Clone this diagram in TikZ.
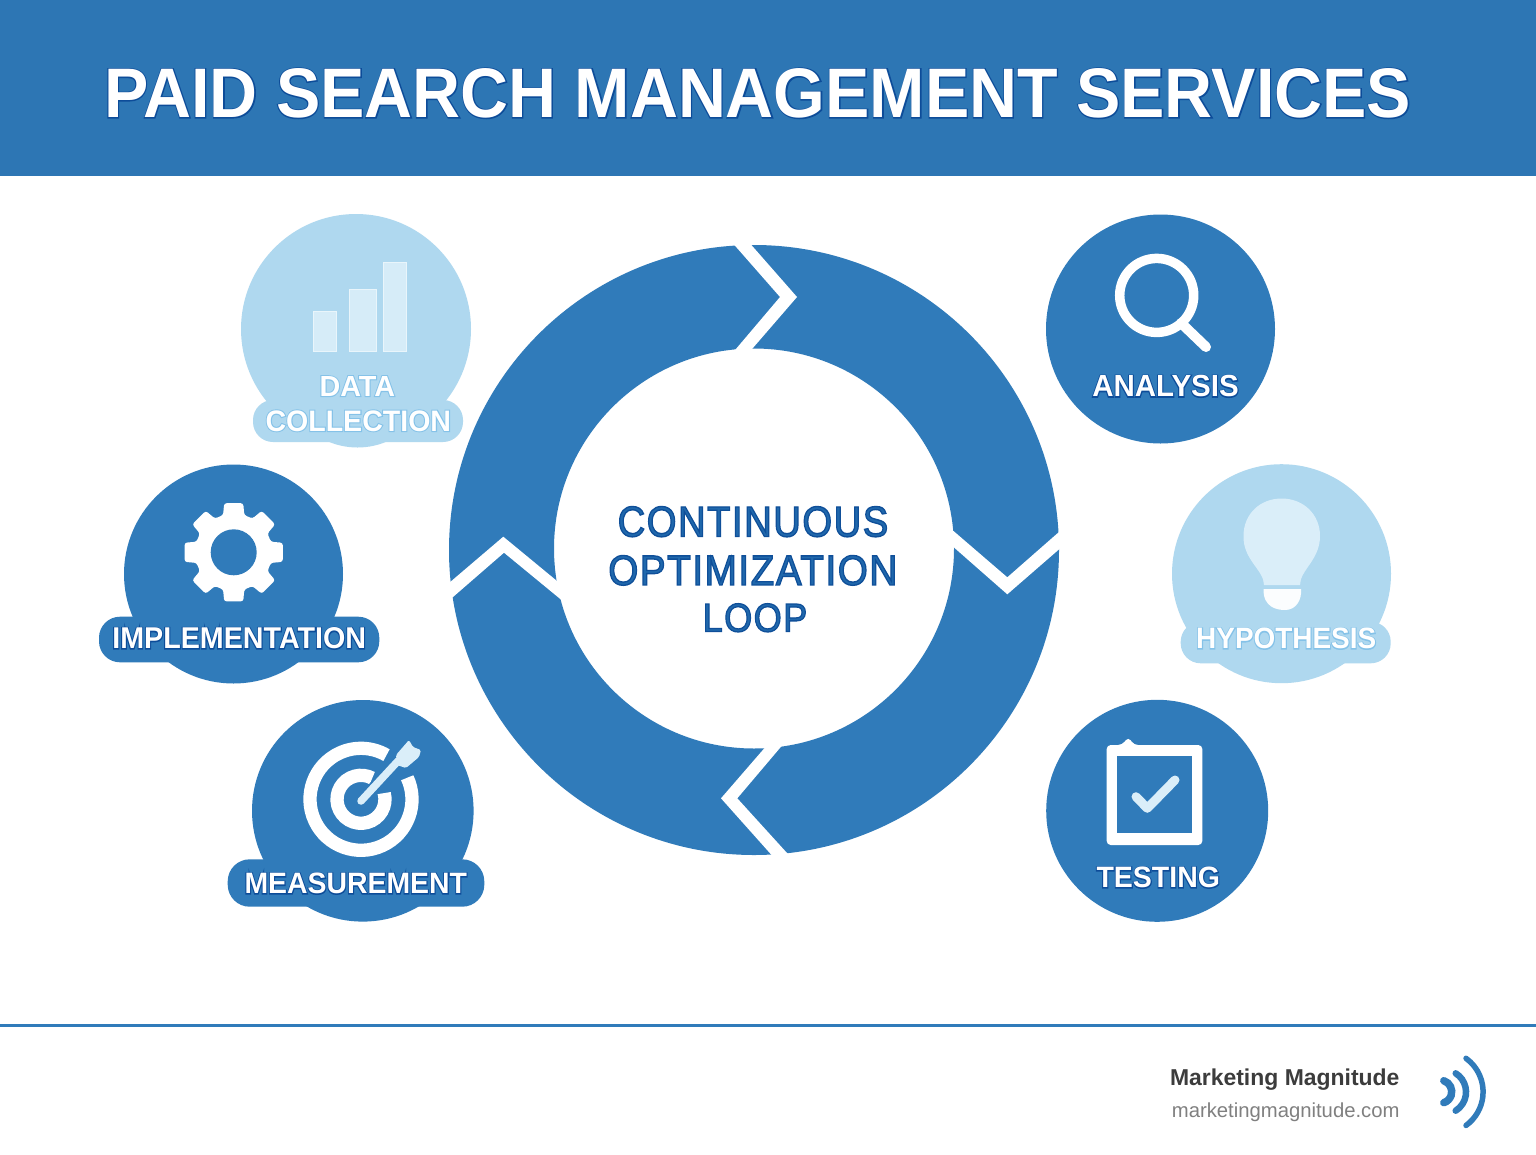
\documentclass[tikz,border=0pt]{standalone}
\usepackage{graphicx}
\usepackage{fontspec}
\setmainfont{Liberation Sans}
\definecolor{hdr}{RGB}{45,118,180}
\definecolor{ringblue}{RGB}{48,123,186}
\definecolor{lightb}{RGB}{175,216,239}
\definecolor{paleb}{RGB}{218,238,249}
\definecolor{barb}{RGB}{214,236,248}
\definecolor{midtext}{RGB}{32,104,172}
\definecolor{foot}{RGB}{60,60,60}
\definecolor{footg}{RGB}{128,128,128}
\makeatletter
\newcommand{\stk}[3]{\pgfsys@invoke{2 Tr #1 w #2 RG}#3\pgfsys@invoke{0 Tr}}
\newcommand{\outl}[3]{\rlap{\pgfsys@invoke{1 Tr #1 w #2 RG}#3\pgfsys@invoke{0 Tr}}#3}
\makeatother
% white text, coloured edge outside the glyphs, fitted to W x H px
\newcommand{\darklab}[3]{\resizebox{#1pt}{#2pt}{\fontsize{29}{34}\bfseries\selectfont\color{white}\outl{2}{0.05 0.30 0.60}{#3}}}
\newcommand{\lightlab}[3]{\resizebox{#1pt}{#2pt}{\fontsize{29}{34}\bfseries\selectfont\color{white}\outl{2}{0.52 0.76 0.91}{#3}}}
\newcommand{\midlab}[3]{\resizebox{#1pt}{#2pt}{\fontsize{38}{46}\addfontfeature{LetterSpace=4}\selectfont\color{midtext}\stk{1.2}{0.06 0.31 0.60}{#3}}}
\tikzset{
  txt/.style={inner sep=0pt,outer sep=0pt},
  badge/.style={fill=ringblue,draw=none},
  lbadge/.style={fill=lightb,draw=none},
  gapw/.style={fill=white,draw=none},
  iconw/.style={draw=white,fill=none},
  iconp/.style={draw=paleb,fill=none,line cap=round,line join=round}
}
\begin{document}
\begin{tikzpicture}[x=1pt,y=-1pt]
\useasboundingbox (0,0) rectangle (1536,1154);
\fill[white] (0,0) rectangle (1536,1154);
% header
\fill[hdr] (0,0) rectangle (1536,176);
\node[txt] (title) at (757.5,93.3) {\resizebox{1307pt}{49pt}{\fontsize{70}{80}\bfseries\selectfont\color{white}\outl{2.2}{0.05 0.30 0.60}{PAID SEARCH MANAGEMENT SERVICES}}};
% ring
\fill[ringblue,even odd rule] (754,550) circle (305) (754,548.5) circle (200);
\fill[gapw] (730,240)--(780,297)--(730,356)--(746,356)--(797,297)--(747,240)--cycle;
\fill[gapw] (945,523.7)--(1007.3,577.3)--(1070,522.3)--(1070,539.8)--(1007.3,594.3)--(945,539.6)--cycle;
\fill[gapw] (773.2,738)--(721,798.3)--(779.6,864)--(797,864)--(737.3,798.3)--(788.4,738)--cycle;
\fill[gapw] (440,590.7)--(503.3,536.7)--(570,591.7)--(570,607)--(504,552.7)--(440,608.3)--cycle;
\node[txt] (c1) at (753,521.7) {\midlab{270.6}{30}{CONTINUOUS}};
\node[txt] (c2) at (752.8,570.4) {\midlab{289}{29.5}{OPTIMIZATION}};
\node[txt] (c3) at (755,617.8) {\midlab{104.6}{28}{LOOP}};
% Data collection
\fill[lbadge] (356,329) circle (115);
\fill[lbadge,rounded corners=20] (253,400) rectangle (463,442);
\fill[lbadge] (325,440) .. controls (345,450) and (370,450) .. (390,440) -- cycle;
\fill[barb,draw=paleb!60!white,line width=.8] (313.3,311) rectangle (336.7,351.7);
\fill[barb,draw=paleb!60!white,line width=.8] (349,289.3) rectangle (376,351.7);
\fill[barb,draw=paleb!60!white,line width=.8] (383.3,262) rectangle (406,351.7);
\node[txt] (dc1) at (357.3,386.2) {\lightlab{75.5}{20}{DATA}};
\node[txt] (dc2) at (358.3,420.8) {\lightlab{185.5}{20.7}{COLLECTION}};
% Analysis
\fill[badge] (1160.5,329) circle (114.5);
\draw[iconw,line width=9.5] (1156.7,295.4) circle (37);
\draw[iconw,line width=10,line cap=round] (1181,323) -- (1206,347);
\node[txt] (an) at (1165.5,386.2) {\darklab{146.4}{21.3}{ANALYSIS}};
% Implementation
\fill[badge] (233.5,574) circle (109.5);
\fill[badge,rounded corners=21] (99,616.7) rectangle (379.3,662.3);
\fill[white,rounded corners=2.5] ([shift={(233.7,552.3)}]-22.5:38.5)
  \foreach \a in {0,45,...,270}{
    -- ([shift={(233.7,552.3)}]\a-16:38.5)
    -- ([shift={(233.7,552.3)}]\a-11:50) -- ([shift={(233.7,552.3)}]\a+11:50)
    -- ([shift={(233.7,552.3)}]\a+16:38.5) -- ([shift={(233.7,552.3)}]\a+22.5:38.5)
  }
    -- ([shift={(233.7,552.3)}]299:38.5)
    -- ([shift={(233.7,552.3)}]304:50) -- ([shift={(233.7,552.3)}]326:50)
    -- ([shift={(233.7,552.3)}]331:38.5) -- cycle;
\fill[ringblue] (233.7,552.3) circle (23);
\node[txt] (im) at (239.2,638.3) {\darklab{253.8}{21}{IMPLEMENTATION}};
% Measurement
\fill[badge] (362.8,810.8) circle (110.8);
\fill[badge,rounded corners=22] (227.7,859.3) rectangle (484.3,906.7);
\draw[iconw,line width=13.3] (361,799.3) ++(-25:51) arc (-25:300:51);
\draw[iconw,line width=13.3] (361,799.3) ++(-15:24) arc (-15:298:24);
\draw[ringblue,line width=11,line cap=round] (361,801) -- (398,761);
\draw[iconp,line width=7.5] (361,801) -- (398,761);
\fill[paleb,rounded corners=1.5] (396,755)--(409,740)--(413,747)--(421,750)--(419,757)--(406,768)--(397,765)--cycle;
\node[txt] (me) at (355.8,883.5) {\darklab{222.5}{20.6}{MEASUREMENT}};
% Hypothesis
\fill[lbadge] (1281.5,573.7) circle (109.5);
\fill[lbadge,rounded corners=20] (1180.7,621.7) rectangle (1390.7,663.3);
\fill[paleb] (1264,585) .. controls (1264,570) and (1243,560) .. (1243.5,536)
  .. controls (1243.5,514) and (1260,498.5) .. (1281.7,498.5)
  .. controls (1303,498.5) and (1320,514) .. (1320,536)
  .. controls (1320,560) and (1300,570) .. (1300,585) -- cycle;
\fill[white!90!paleb] (1263.5,589) -- (1301,589) .. controls (1302,600) and (1296,610) .. (1285,610)
  .. controls (1278,610) and (1263,608) .. (1263.5,589) -- cycle;
\node[txt] (hy) at (1286.2,638.5) {\lightlab{180}{20.6}{HYPOTHESIS}};
% Testing
\fill[badge] (1157.2,810.8) circle (111);
\fill[white,rounded corners=4] (1106.7,745) -- (1122,745) -- (1128.3,737) -- (1134,745) -- (1202.3,745) -- (1202.3,845) -- (1106.7,845) -- cycle;
\fill[ringblue] (1117.3,756) rectangle (1191.7,833.3);
\draw[iconp,line width=9] (1136,796.7) -- (1147.3,808.3) -- (1175,780);
\node[txt] (te) at (1158.3,877.5) {\darklab{123.5}{20.6}{TESTING}};
% footer
\draw[ringblue,line width=3] (0,1025) -- (1536,1025);
\node[txt,anchor=base east] (ft1) at (1399.5,1085.7) {\resizebox{229.5pt}{!}{\fontsize{23}{27}\bfseries\selectfont\color{foot}Marketing Magnitude}};
\node[txt,anchor=base east] (ft2) at (1399.5,1117.3) {\resizebox{227.6pt}{!}{\fontsize{20}{24}\selectfont\color{footg}marketingmagnitude.com}};
\draw[ringblue,line width=7.5,line cap=round] (1443.8,1080.7) arc (-71.5:71.5:11.6);
\draw[ringblue,line width=6.5,line cap=round] (1455.7,1073.3) arc (-57.8:57.8:22.1);
\draw[ringblue,line width=5.5,line cap=round] (1466,1058.3) arc (-54:54:41.5);
\end{tikzpicture}
\end{document}
